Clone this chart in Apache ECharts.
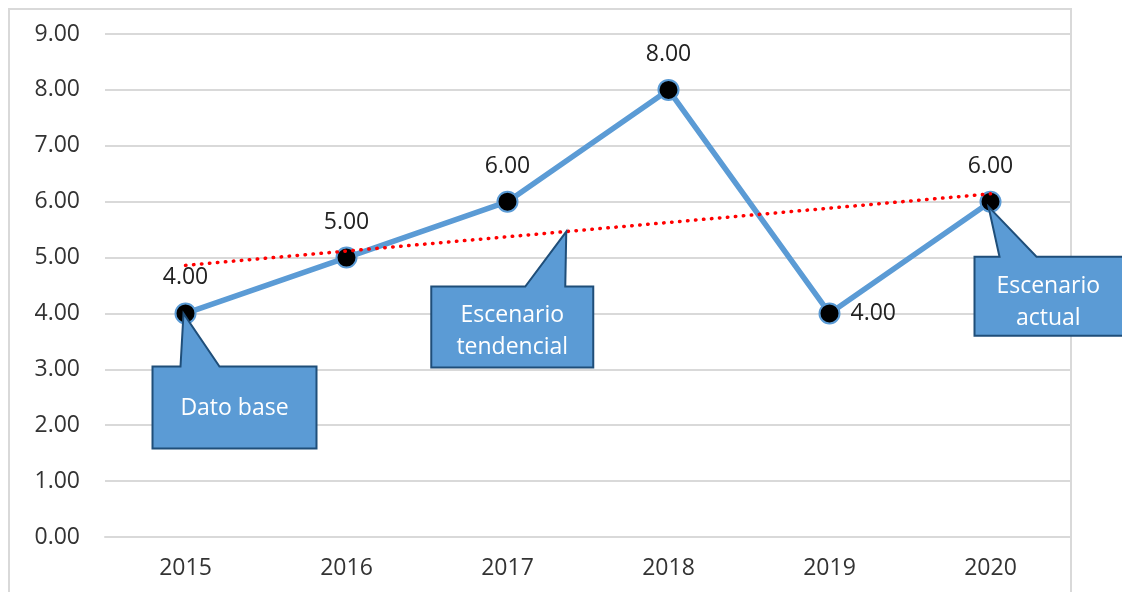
<!DOCTYPE html>
<html>
<head>
<meta charset="utf-8">
<script src="https://cdn.jsdelivr.net/npm/echarts@6/dist/echarts.min.js"></script>
<style>
html,body{margin:0;padding:0;background:#fff;}
#chart{width:1122px;height:592px;}
</style>
</head>
<body>
<div id="chart"></div>
<script>
const years = ['2015', '2016', '2017', '2018', '2019', '2020'];
const values = [4, 5, 6, 8, 4, 6];
// trend line end values (dotted red line)
const trendValues = [4.86, null, null, null, null, 6.14];
const yTicks = { min: 0, max: 9, interval: 1 };
const callouts = [
  { text: 'Dato base' },
  { text: 'Escenario\ntendencial' },
  { text: 'Escenario\nactual' }
];

const FONT = '"Open Sans", "Liberation Sans", sans-serif';
const chart = echarts.init(document.getElementById('chart'));

chart.setOption({
  animation: false,
  backgroundColor: '#fff',
  grid: { left: 105, right: 51, top: 34, bottom: 55, containLabel: false },
  xAxis: {
    type: 'category',
    data: years,
    boundaryGap: true,
    axisLine: { show: true, lineStyle: { color: '#D9D9D9', width: 2 } },
    axisTick: { show: false },
    axisLabel: { color: '#333', fontSize: 23, fontFamily: FONT, margin: 20 }
  },
  yAxis: {
    type: 'value',
    min: yTicks.min, max: yTicks.max, interval: yTicks.interval,
    axisLine: { show: false },
    axisTick: { show: false },
    splitLine: { lineStyle: { color: '#D9D9D9', width: 2 } },
    axisLabel: {
      color: '#333', fontSize: 23, fontFamily: FONT, margin: 25,
      formatter: v => v.toFixed(2)
    }
  },
  series: [
    {
      type: 'line',
      data: values.map((v, i) => ({
        value: v,
        label: i === 4 ? { position: 'right', distance: 10 } : undefined
      })),
      z: 2,
      lineStyle: { color: '#5B9BD5', width: 5.5 },
      symbol: 'circle',
      symbolSize: 20,
      itemStyle: { color: '#000', borderColor: '#5B9BD5', borderWidth: 2 },
      label: {
        show: true, position: 'top', distance: 13,
        color: '#222', fontSize: 23, fontFamily: FONT,
        formatter: p => Number(p.value).toFixed(2)
      }
    },
    {
      type: 'line',
      data: trendValues,
      connectNulls: true,
      z: 4,
      symbol: 'none',
      lineStyle: { color: '#FF0000', width: 3.5, type: [0.5, 7.5], cap: 'round' },
      silent: true
    }
  ]
});

// Callouts anchored to data positions
const p2015 = chart.convertToPixel({ xAxisIndex: 0, yAxisIndex: 0 }, ['2015', values[0]]);
const p2020 = chart.convertToPixel({ xAxisIndex: 0, yAxisIndex: 0 }, ['2020', values[5]]);
const t0 = chart.convertToPixel({ xAxisIndex: 0, yAxisIndex: 0 }, ['2015', trendValues[0]]);
const t1 = chart.convertToPixel({ xAxisIndex: 0, yAxisIndex: 0 }, ['2020', trendValues[5]]);
const f = 0.473;
const pTrend = [t0[0] + (t1[0] - t0[0]) * f, t0[1] + (t1[1] - t0[1]) * f];

function callout(tip, rect, ptr, text, textY) {
  const [x0, y0, x1, y1] = rect;
  const pts = [[x0, y0], [ptr[0], y0], tip, [ptr[1], y0], [x1, y0], [x1, y1], [x0, y1]];
  return [
    {
      type: 'polygon', z: 100,
      shape: { points: pts },
      style: { fill: '#5B9BD5', stroke: '#1F4E79', lineWidth: 2 }
    },
    {
      type: 'text', z: 101,
      x: (x0 + Math.min(x1, 1122)) / 2, y: textY,
      style: {
        text: text, fill: '#fff', fontSize: 23, fontFamily: FONT,
        align: 'center', verticalAlign: 'middle', lineHeight: 32
      }
    }
  ];
}

const tip1 = [p2015[0] - 2, p2015[1]];
const tip3 = [p2020[0] - 2, p2020[1] + 5];
const tip2 = [pTrend[0], pTrend[1]];

const elems = [
  {
    type: 'rect', z: 0, silent: true,
    shape: { x: 9, y: 9, width: 1062, height: 600 },
    style: { fill: 'none', stroke: '#D9D9D9', lineWidth: 2 }
  }
]
  .concat(callout(tip1, [tip1[0] - 31, tip1[1] + 53, tip1[0] + 133, tip1[1] + 135],
                  [tip1[0] - 3, tip1[0] + 36], callouts[0].text, tip1[1] + 95))
  .concat(callout(tip2, [tip2[0] - 135, tip2[1] + 55, tip2[0] + 27, tip2[1] + 136],
                  [tip2[0] - 41, tip2[0] - 1], callouts[1].text, tip2[1] + 100))
  .concat(callout(tip3, [tip3[0] - 14, tip3[1] + 50, tip3[0] + 145, tip3[1] + 129],
                  [tip3[0] + 11, tip3[0] + 48], callouts[2].text, tip3[1] + 96));

chart.setOption({ graphic: { elements: elems } });
</script>
</body>
</html>
